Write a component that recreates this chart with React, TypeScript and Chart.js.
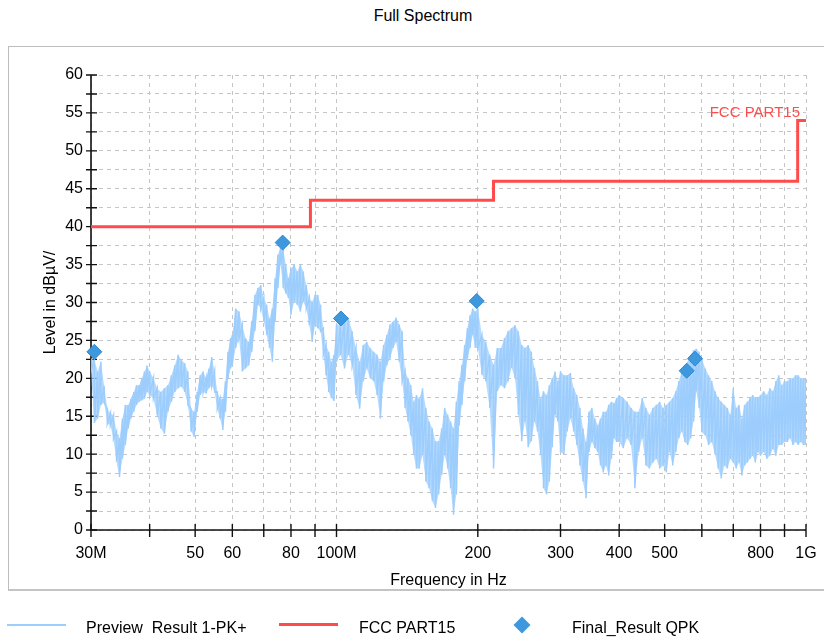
import React, { useEffect, useRef } from 'react';
import { Chart, registerables } from 'chart.js';

Chart.register(...registerables);

// ---- Data (frequencies in MHz, levels in dBµV) ----
const spectrumFreqs = [
  30, 30.5, 31, 31.5, 32, 32.5, 33, 33.5, 34, 34.5, 35, 35.5, 36, 36.5, 37, 37.5, 38, 38.5, 39, 39.5, 40,
  40.75, 41.5, 42.25, 43, 43.75, 44.5, 45.25, 46, 46.75, 47.5, 48.25, 49, 49.75, 50.5, 51.25, 52, 52.75, 53.5, 54.25, 55, 55.75, 56.5, 57.25, 58, 58.75, 59.5,
  60, 61, 62, 63, 64, 65, 66, 67, 68, 69, 70, 71, 72, 73, 74, 75, 76, 77, 78, 79,
  80, 81.25, 82.5, 83.75, 85, 86.25, 87.5, 88.75, 90, 91.25, 92.5, 93.75, 95, 96.25, 97.5, 98.75,
  100, 102, 104, 106, 108, 110, 112, 114, 116, 118, 120, 122, 124, 126, 128, 130, 132, 134, 136, 138, 140, 142, 144, 146, 148,
  150, 152.5, 155, 157.5, 160, 162.5, 165, 167.5, 170, 172.5, 175, 177.5, 180, 182.5, 185, 187.5, 190, 192.5, 195, 197.5,
  200, 204, 208, 212, 216, 220, 224, 228, 232, 236, 240, 244, 248, 252, 256, 260, 264, 268, 272, 276, 280, 284, 288, 292, 296,
  300, 305, 310, 315, 320, 325, 330, 335, 340, 345, 350, 355, 360, 365, 370, 375, 380, 385, 390, 395,
  400, 408, 416, 424, 432, 440, 448, 456, 464, 472, 480, 488, 496, 504, 512, 520, 528, 536, 544, 552, 560, 568, 576, 584, 592,
  600, 610, 620, 630, 640, 650, 660, 670, 680, 690, 700, 710, 720, 730, 740, 750, 760, 770, 780, 790,
  800, 812.5, 825, 837.5, 850, 862.5, 875, 887.5, 900, 912.5, 925, 937.5, 950, 962.5, 975, 987.5, 1000,
];

const spectrumPeak = [
  22.6, 22.4, 20.9, 22.2, 19.0, 16.0, 15.4, 15.1, 13.0, 12.1, 14.7, 16.5, 16.5, 17.3, 18.2, 19.1, 19.1, 20.0, 20.9, 21.7, 20.9,
  20.0, 18.7, 18.2, 18.7, 19.1, 20.4, 21.7, 23.1, 22.4, 22.0, 20.9, 16.0, 15.6, 18.2, 20.4, 20.9, 20.0, 21.3, 22.8, 20.9, 18.2, 17.3, 17.3, 19.6, 23.5, 25.3,
  25.7, 29.2, 28.8, 27.0, 25.3, 24.8, 27.5, 31.0, 31.9, 32.3, 30.6, 29.7, 27.9, 29.2, 33.2, 36.3, 37.2, 37.0, 35.0, 33.2,
  34.5, 35.0, 34.1, 35.0, 34.1, 32.3, 30.6, 30.1, 31.0, 31.0, 29.7, 26.6, 24.4, 23.5, 22.2, 23.1,
  27.1, 27.1, 27.5, 28.0, 26.2, 24.0, 22.2, 24.4, 24.8, 24.0, 23.5, 23.1, 22.2, 24.4, 25.7, 27.1, 27.5, 28.0, 27.1, 26.2, 20.9, 20.0, 19.1, 16.9, 17.8,
  17.3, 18.7, 16.1, 14.3, 13.4, 11.7, 11.7, 13.4, 16.1, 15.2, 14.3, 13.4, 16.9, 19.6, 21.8, 24.4, 26.6, 28.3, 29.2, 28.8,
  29.2, 25.7, 24.8, 23.1, 21.8, 24.0, 24.0, 25.3, 26.2, 26.6, 27.0, 26.2, 24.4, 24.0, 24.4, 23.5, 21.4, 19.6, 17.3, 18.3, 17.8, 19.1, 20.0, 20.9, 19.6,
  20.9, 20.4, 20.4, 20.7, 18.7, 17.8, 16.1, 13.4, 11.6, 15.6, 16.1, 14.7, 13.8, 14.7, 15.6, 15.6, 16.5, 16.9, 16.7, 17.4,
  17.8, 17.4, 16.9, 16.1, 15.6, 15.6, 17.4, 16.1, 15.2, 16.1, 16.5, 16.9, 16.1, 16.5, 16.9, 17.4, 18.3, 19.6, 20.9, 21.7, 22.2, 23.1, 23.7, 23.9, 23.5,
  22.6, 21.3, 20.4, 19.6, 18.3, 17.4, 16.9, 16.5, 16.1, 15.2, 18.7, 16.1, 16.5, 14.7, 16.5, 16.9, 17.4, 17.8, 17.4, 17.4,
  17.8, 18.3, 17.8, 18.7, 18.3, 19.6, 20.4, 19.1, 19.6, 19.6, 20.0, 20.0, 20.4, 20.4, 20.0, 20.0, 20.0,
];

const spectrumFloor = [
  20.9, 14.1, 14.7, 16.5, 16.8, 14.0, 13.8, 12.0, 9.0, 7.0, 9.4, 11.2, 13.4, 14.7, 15.6, 16.5, 16.9, 17.1, 17.3, 18.2, 17.8,
  17.3, 15.1, 13.4, 12.7, 15.6, 16.9, 18.2, 18.7, 18.9, 18.2, 16.5, 13.0, 12.3, 15.6, 17.8, 18.2, 18.0, 18.7, 19.1, 18.2, 16.0, 14.7, 13.2, 15.6, 20.0, 21.3,
  21.7, 24.0, 25.3, 20.9, 21.3, 21.7, 23.5, 26.2, 29.7, 29.2, 27.5, 25.7, 24.0, 22.2, 27.5, 31.9, 35.0, 31.9, 31.2, 30.6,
  28.4, 30.1, 29.7, 28.8, 30.1, 29.2, 27.0, 24.8, 27.0, 26.6, 26.2, 23.1, 20.4, 18.2, 17.4, 17.0,
  22.2, 23.1, 21.3, 23.1, 21.7, 17.8, 16.0, 19.6, 21.3, 20.0, 19.6, 17.8, 14.7, 19.6, 21.7, 22.6, 24.0, 24.8, 22.2, 19.6, 16.1, 14.3, 12.5, 9.9, 8.1,
  8.1, 9.9, 6.4, 5.5, 3.8, 2.9, 4.7, 7.3, 9.9, 8.1, 5.5, 2.0, 4.7, 13.8, 16.5, 19.6, 22.6, 24.0, 25.7, 24.0,
  24.0, 20.5, 19.6, 16.1, 8.1, 18.3, 19.1, 18.7, 19.6, 21.4, 20.0, 15.2, 11.7, 14.3, 10.9, 11.7, 14.3, 13.0, 9.9, 5.5, 4.7, 6.4, 10.9, 15.2, 14.3,
  10.3, 10.0, 13.0, 14.7, 13.0, 11.2, 8.5, 6.4, 4.2, 10.3, 11.6, 10.8, 10.3, 8.5, 7.6, 8.5, 7.2, 9.4, 12.1, 11.6,
  11.6, 10.8, 12.1, 11.2, 5.5, 10.3, 12.1, 8.5, 8.1, 8.9, 9.4, 8.1, 8.5, 7.6, 10.3, 8.5, 10.3, 12.1, 13.0, 11.6, 11.2, 12.1, 14.3, 18.3, 16.1,
  12.9, 12.5, 11.2, 11.6, 10.0, 8.1, 6.8, 8.5, 8.1, 9.4, 8.9, 8.1, 8.9, 7.2, 8.5, 8.9, 9.4, 9.8, 8.9, 10.3,
  9.8, 10.3, 9.4, 9.8, 10.7, 9.8, 11.2, 11.2, 11.6, 11.6, 12.1, 11.2, 11.6, 11.2, 11.6, 11.2, 11.2,
];

const limitFreqs = [30, 88, 88, 216, 216, 960, 960, 1000];
const limitLevels = [40, 40, 43.5, 43.5, 46, 46, 54, 54];

const qpkFreqs = [30.5, 76.8, 102.2, 198.9, 557, 580];
const qpkLevels = [23.5, 37.9, 27.9, 30.2, 21.0, 22.6];

const freqTicks = [30, 40, 50, 60, 70, 80, 90, 100, 200, 300, 400, 500, 600, 700, 800, 900, 1000];
const freqTickLabels = ['30M', '', '50', '60', '', '80', '', '100M', '200', '300', '400', '500', '', '', '800', '', '1G'];
const levelTicks = [0, 2.5, 5, 7.5, 10, 12.5, 15, 17.5, 20, 22.5, 25, 27.5, 30, 32.5, 35, 37.5, 40, 42.5, 45, 47.5, 50, 52.5, 55, 57.5, 60];
const levelTickLabels = ['0', '', '5', '', '10', '', '15', '', '20', '', '25', '', '30', '', '35', '', '40', '', '45', '', '50', '', '55', '', '60'];

const FONT = '"Liberation Sans", Arial, Helvetica, sans-serif';
const TRACE_COLOR = '#9ccdfd';
const TRACE_FILL = 'rgba(156, 205, 253, 0.75)';
const LIMIT_COLOR = '#ff4b4b';
const QPK_COLOR = '#3e98de';

const axesPlugin = {
  id: 'axesCross',
  beforeDatasetsDraw(chart: any) {
    const { ctx, chartArea, scales } = chart;
    const xs = scales.x;
    const ys = scales.y;
    ctx.save();
    ctx.strokeStyle = '#111';
    ctx.lineWidth = 1.6;
    ctx.setLineDash([]);
    ctx.beginPath();
    ctx.moveTo(chartArea.left, chartArea.top);
    ctx.lineTo(chartArea.left, chartArea.bottom);
    ctx.lineTo(chartArea.right, chartArea.bottom);
    ctx.stroke();
    ctx.lineWidth = 1.4;
    ctx.beginPath();
    levelTicks.forEach((v) => {
      const y = ys.getPixelForValue(v);
      ctx.moveTo(chartArea.left - 5, y);
      ctx.lineTo(chartArea.left + 6, y);
    });
    freqTicks.forEach((v) => {
      const x = xs.getPixelForValue(v);
      ctx.moveTo(x, chartArea.bottom - 6);
      ctx.lineTo(x, chartArea.bottom + 7);
    });
    ctx.stroke();
    ctx.restore();
  },
};

const limitLabelPlugin = {
  id: 'limitLabel',
  afterDatasetsDraw(chart: any) {
    const { ctx, scales } = chart;
    const x = scales.x.getPixelForValue(limitFreqs[limitFreqs.length - 1]) - 6;
    const y = scales.y.getPixelForValue(limitLevels[limitLevels.length - 1]) - 4;
    ctx.save();
    ctx.font = `15px ${FONT}`;
    ctx.fillStyle = LIMIT_COLOR;
    ctx.textAlign = 'right';
    ctx.textBaseline = 'alphabetic';
    ctx.fillText('FCC PART15', x, y);
    ctx.restore();
  },
};

export default function App() {
  const canvasRef = useRef<HTMLCanvasElement | null>(null);

  useEffect(() => {
    if (!canvasRef.current) return;
    const tracePoints: { x: number; y: number }[] = [];
    spectrumFreqs.forEach((f, i) => {
      tracePoints.push({ x: f, y: spectrumPeak[i] });
      tracePoints.push({ x: f, y: spectrumFloor[i] });
    });
    const peakPoints = spectrumFreqs.map((f, i) => ({ x: f, y: spectrumPeak[i] }));
    const floorPoints = spectrumFreqs.map((f, i) => ({ x: f, y: spectrumFloor[i] }));
    const limitPoints = limitFreqs.map((f, i) => ({ x: f, y: limitLevels[i] }));
    const qpkPoints = qpkFreqs.map((f, i) => ({ x: f, y: qpkLevels[i] }));

    const chart = new Chart(canvasRef.current, {
      type: 'line',
      data: {
        datasets: [
          {
            label: 'Final_Result QPK',
            data: qpkPoints,
            showLine: false,
            pointStyle: 'rectRot',
            pointRadius: 7.5,
            backgroundColor: QPK_COLOR,
            borderColor: '#2f88d0',
            borderWidth: 1,
            clip: false,
          } as any,
          {
            label: 'FCC PART15',
            data: limitPoints,
            borderColor: LIMIT_COLOR,
            borderWidth: 3,
            pointRadius: 0,
            tension: 0,
          },
          {
            label: 'Preview  Result 1-PK+',
            data: tracePoints,
            borderColor: TRACE_COLOR,
            borderWidth: 1.5,
            pointRadius: 0,
            tension: 0,
          },
          {
            label: 'peak envelope',
            data: peakPoints,
            borderWidth: 0,
            borderColor: 'rgba(0,0,0,0)',
            pointRadius: 0,
            tension: 0,
            fill: false,
          },
          {
            label: 'floor envelope',
            data: floorPoints,
            borderWidth: 0,
            borderColor: 'rgba(0,0,0,0)',
            backgroundColor: TRACE_FILL,
            pointRadius: 0,
            tension: 0,
            fill: '-1',
          },
        ],
      },
      options: {
        animation: false,
        responsive: false,
        maintainAspectRatio: false,
        events: [],
        layout: { padding: { left: 0, top: 75, right: 18, bottom: 49 } },
        plugins: {
          legend: { display: false },
          title: { display: false },
          tooltip: { enabled: false },
          filler: { propagate: false },
        },
        scales: {
          x: {
            type: 'logarithmic',
            min: 30,
            max: 1000,
            afterBuildTicks: (s: any) => {
              s.ticks = freqTicks.map((v) => ({ value: v }));
            },
            afterFit: (s: any) => {
              s.height = 61;
              s.paddingLeft = 0;
              s.paddingRight = 0;
            },
            ticks: {
              autoSkip: false,
              maxRotation: 0,
              minRotation: 0,
              padding: 14,
              color: '#000',
              font: { family: FONT, size: 16 },
              callback: (v: any) => {
                const i = freqTicks.indexOf(Number(v));
                return i >= 0 ? freqTickLabels[i] : '';
              },
            },
            grid: { color: '#c6c6c6', lineWidth: 1, drawTicks: false },
            border: { display: false, dash: [4, 4] },
            title: {
              display: true,
              text: 'Frequency in Hz',
              color: '#000',
              font: { family: FONT, size: 16 },
              padding: { top: 0, bottom: 1 },
            },
          },
          y: {
            type: 'linear',
            min: 0,
            max: 60,
            afterBuildTicks: (s: any) => {
              s.ticks = levelTicks.map((v) => ({ value: v }));
            },
            afterFit: (s: any) => {
              s.width = 91;
            },
            ticks: {
              autoSkip: false,
              padding: 8,
              color: '#000',
              font: { family: FONT, size: 16 },
              callback: (v: any) => {
                const i = levelTicks.indexOf(Number(v));
                return i >= 0 ? levelTickLabels[i] : '';
              },
            },
            grid: { color: '#c6c6c6', lineWidth: 1, drawTicks: false },
            border: { display: false, dash: [4, 4] },
            title: {
              display: true,
              text: 'Level in dBµV/',
              color: '#000',
              font: { family: FONT, size: 16 },
              padding: { top: 41, bottom: 0 },
            },
          },
        },
      } as any,
      plugins: [axesPlugin, limitLabelPlugin],
    });
    return () => chart.destroy();
  }, []);

  const text16: React.CSSProperties = {
    position: 'absolute',
    fontFamily: FONT,
    fontSize: 16,
    lineHeight: '18px',
    color: '#000',
    whiteSpace: 'pre',
  };

  return (
    <div style={{ position: 'absolute', left: 0, top: 0, width: 824, height: 640, overflow: 'hidden', background: '#fff' }}>
      <div style={{ ...text16, left: 0, top: 7, width: 846, textAlign: 'center' }}>Full Spectrum</div>
      <div
        style={{
          position: 'absolute',
          left: 8,
          top: 46,
          width: 840,
          height: 542,
          border: '1px solid #bdbdbd',
          borderBottom: '2px solid #c4c4c4',
          background: '#fff',
        }}
      />
      <canvas
        ref={canvasRef}
        width={824}
        height={640}
        style={{ position: 'absolute', left: 0, top: 0, width: 824, height: 640 }}
      />
      <div style={{ position: 'absolute', left: 7, top: 624, width: 59, height: 2, background: TRACE_COLOR }} />
      <div style={{ ...text16, left: 86, top: 619 }}>Preview  Result 1-PK+</div>
      <div style={{ position: 'absolute', left: 279, top: 623, width: 59, height: 3, background: LIMIT_COLOR }} />
      <div style={{ ...text16, left: 359, top: 619 }}>FCC PART15</div>
      <div
        style={{
          position: 'absolute',
          left: 516,
          top: 619,
          width: 12,
          height: 12,
          background: QPK_COLOR,
          transform: 'rotate(45deg)',
        }}
      />
      <div style={{ ...text16, left: 572, top: 619 }}>Final_Result QPK</div>
    </div>
  );
}
